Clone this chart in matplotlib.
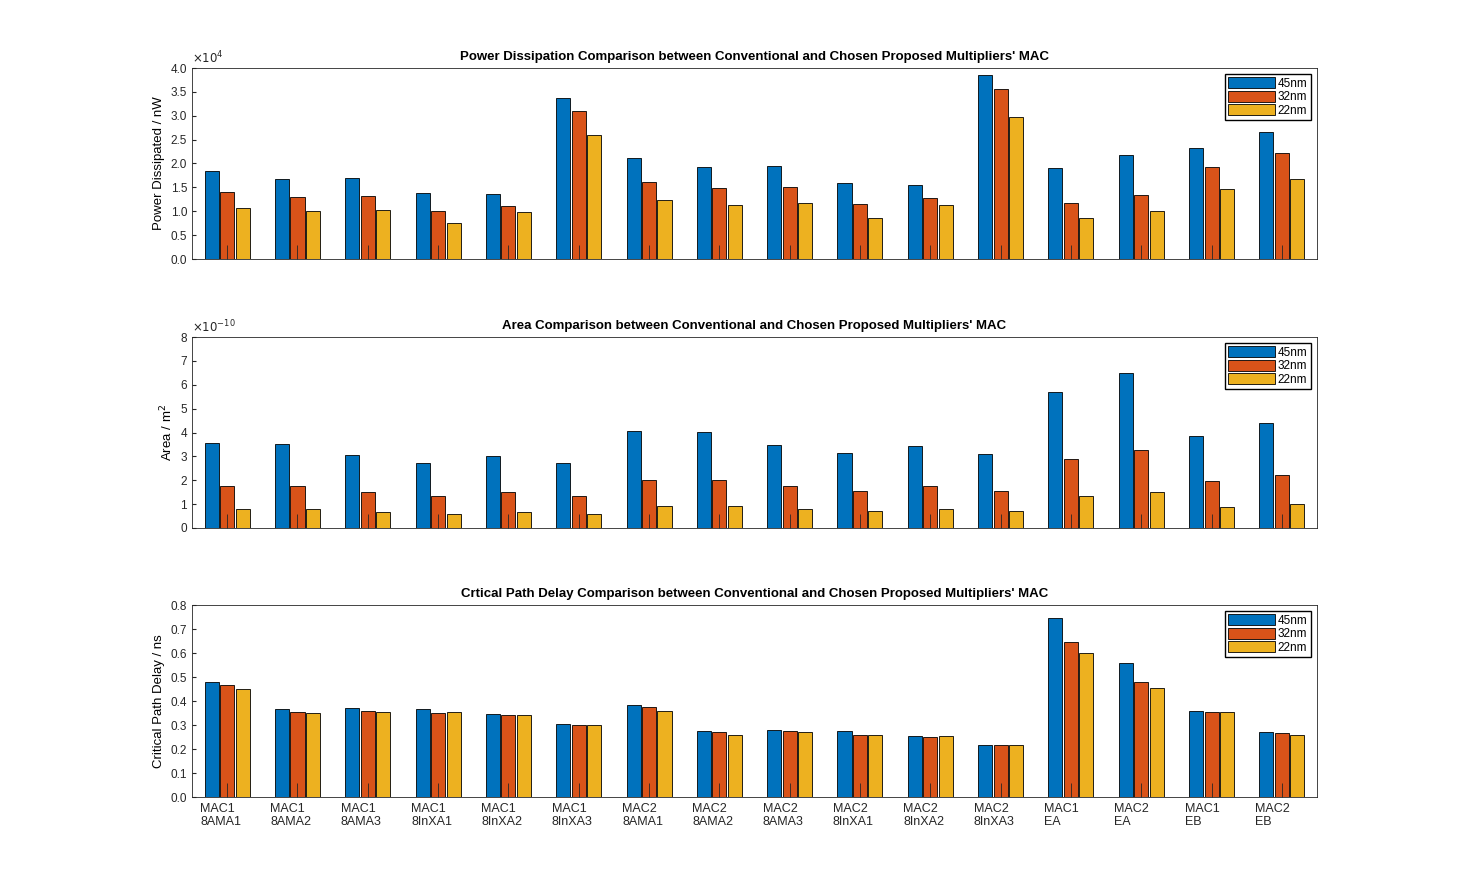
import numpy as np
import matplotlib.pyplot as plt

labels = ['MAC1\n8AMA1', 'MAC1\n8AMA2', 'MAC1\n8AMA3', 'MAC1\n8InXA1', 'MAC1\n8InXA2', 'MAC1\n8InXA3',
          'MAC2\n8AMA1', 'MAC2\n8AMA2', 'MAC2\n8AMA3', 'MAC2\n8InXA1', 'MAC2\n8InXA2', 'MAC2\n8InXA3',
          'MAC1\nEA', 'MAC2\nEA', 'MAC1\nEB', 'MAC2\nEB']
nodes = ['45nm', '32nm', '22nm']

# power in units of 1e4 nW
power_45 = [1.85, 1.68, 1.70, 1.38, 1.37, 3.38, 2.12, 1.93, 1.95, 1.60, 1.55, 3.86, 1.90, 2.18, 2.32, 2.65]
power_32 = [1.40, 1.30, 1.32, 1.00, 1.10, 3.10, 1.62, 1.49, 1.51, 1.15, 1.28, 3.55, 1.18, 1.35, 1.93, 2.22]
power_22 = [1.07, 1.00, 1.03, 0.75, 0.98, 2.60, 1.23, 1.13, 1.17, 0.85, 1.13, 2.97, 0.86, 1.00, 1.47, 1.68]

# area in units of 1e-10 m^2
area_45 = [3.57, 3.50, 3.05, 2.73, 3.03, 2.73, 4.07, 4.02, 3.47, 3.15, 3.43, 3.12, 5.70, 6.50, 3.86, 4.40]
area_32 = [1.78, 1.78, 1.52, 1.36, 1.52, 1.36, 2.03, 2.03, 1.74, 1.57, 1.74, 1.57, 2.87, 3.28, 1.96, 2.20]
area_22 = [0.80, 0.80, 0.68, 0.60, 0.68, 0.60, 0.93, 0.93, 0.80, 0.73, 0.80, 0.73, 1.33, 1.52, 0.90, 1.02]

delay_45 = [0.48, 0.365, 0.37, 0.365, 0.345, 0.305, 0.385, 0.275, 0.28, 0.275, 0.255, 0.215, 0.745, 0.56, 0.36, 0.27]
delay_32 = [0.465, 0.355, 0.36, 0.35, 0.34, 0.30, 0.375, 0.27, 0.275, 0.26, 0.25, 0.215, 0.645, 0.48, 0.355, 0.265]
delay_22 = [0.45, 0.35, 0.355, 0.355, 0.34, 0.30, 0.36, 0.26, 0.27, 0.26, 0.255, 0.215, 0.60, 0.455, 0.355, 0.26]

colors = ['#0072BD', '#D95319', '#EDB120']
plt.rcParams['font.family'] = 'Liberation Sans'
plt.rcParams['font.size'] = 8.5

fig = plt.figure(figsize=(14.58, 8.96), dpi=100)
W, H = 1458, 896
boxes = [(68, 259), (337, 528), (605, 797)]
x = np.arange(1, 17)

panels = [
    ([power_45, power_32, power_22], 'Power Dissipated / nW',
     "Power Dissipation Comparison between Conventional and Chosen Proposed Multipliers' MAC",
     (0, 4), r'$\times10^4$'),
    ([area_45, area_32, area_22], r'Area / m$^2$',
     "Area Comparison between Conventional and Chosen Proposed Multipliers' MAC",
     (0, 8), r'$\times10^{-10}$'),
    ([delay_45, delay_32, delay_22], 'Critical Path Delay / ns',
     "Crtical Path Delay Comparison between Conventional and Chosen Proposed Multipliers' MAC",
     (0, 0.8), None),
]

for i, (series, ylab, title, ylim, mult) in enumerate(panels):
    top, bot = boxes[i]
    ax = fig.add_axes([192 / W, 1 - bot / H, (1317 - 192) / W, (bot - top) / H])
    for j, vals in enumerate(series):
        ax.bar(x + (j - 1) * 0.22, vals, width=0.2, color=colors[j], edgecolor='black',
               linewidth=0.6, label=nodes[j])
    ax.set_xlim(0.5, 16.5)
    ax.set_ylim(*ylim)
    ax.set_xticks(x)
    ax.tick_params(direction='in', length=10, width=0.6, axis='x', colors='#262626')
    ax.tick_params(direction='in', length=3, axis='y', colors='#262626')
    if i == 2:
        ax.set_xticklabels(labels, ha='left', multialignment='left', fontsize=9)
        for t in ax.get_xticklabels():
            t.set_x(t.get_position()[0])
        ax.tick_params(axis='x', pad=4)
        import matplotlib.transforms as mt
        off = mt.ScaledTranslation(-27 / 100, 0, fig.dpi_scale_trans)
        for t in ax.get_xticklabels():
            t.set_transform(t.get_transform() + off)
    else:
        ax.set_xticklabels([])
    ax.set_ylabel(ylab, fontsize=9.5)
    ax.set_title(title, fontweight='bold', fontsize=9.5, pad=6)
    for s in ax.spines.values():
        s.set_linewidth(0.6)
        s.set_color('#262626')
    if mult:
        ax.text(0, 1.01, mult, transform=ax.transAxes, fontsize=8.5, color='#262626', va='bottom')
    ax.legend(loc='upper right', fontsize=8.5, handlelength=4, handleheight=1.0,
              borderaxespad=0.5, fancybox=False, edgecolor='black', framealpha=1,
              labelspacing=0.1, handletextpad=0.2, borderpad=0.3)

fig.savefig('out.png', dpi=100)
